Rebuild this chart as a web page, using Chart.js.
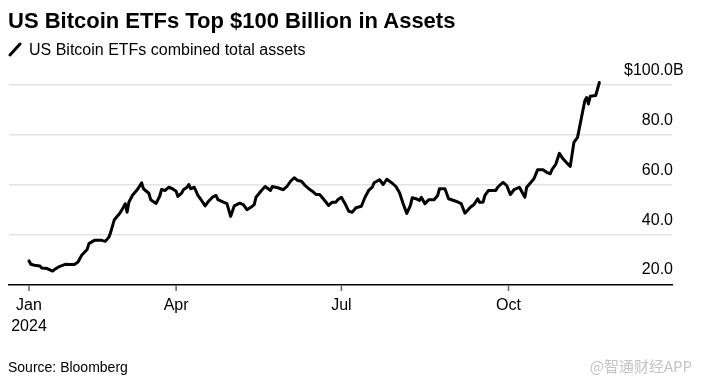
<!DOCTYPE html>
<html><head><meta charset="utf-8">
<script src="https://cdn.jsdelivr.net/npm/chart.js@4.4.1/dist/chart.umd.min.js"></script>
<style>
html,body{margin:0;padding:0;background:#fff;}
#wrap{position:relative;width:701px;height:383px;overflow:hidden;font-family:'Liberation Sans',Arial,sans-serif;color:#000;}
#c{position:absolute;left:0;top:0;}
.t{position:absolute;white-space:nowrap;}
#title{left:8px;top:9.5px;font-size:22px;font-weight:bold;line-height:22px;}
#sub{left:29px;top:41.5px;font-size:16px;line-height:16px;}
#icon{position:absolute;left:7px;top:41px;}
#src{left:8px;top:360px;font-size:14px;line-height:14px;}
#wm{right:9px;top:358px;font-size:15px;line-height:16px;color:#c4c4c4;font-family:'Noto Sans CJK SC',sans-serif;}
</style></head>
<body>
<div id="wrap">
<canvas id="c" width="701" height="383"></canvas>
<div class="t" id="title">US Bitcoin ETFs Top $100 Billion in Assets</div>
<svg id="icon" width="16" height="16"><line x1="3" y1="14" x2="13" y2="3" stroke="#000" stroke-width="3" stroke-linecap="round"/></svg>
<div class="t" id="sub">US Bitcoin ETFs combined total assets</div>
<div class="t" id="src">Source: Bloomberg</div>
<div class="t" id="wm">@智通财经APP</div>
</div>
<script>
const dates = ["2024-01-11","2024-01-12","2024-01-14","2024-01-17","2024-01-18","2024-01-21","2024-01-24","2024-01-25","2024-01-28","2024-01-31",
"2024-02-02","2024-02-05","2024-02-07","2024-02-09","2024-02-12","2024-02-13","2024-02-16","2024-02-20","2024-02-22","2024-02-24","2024-02-25","2024-02-27",
"2024-03-01","2024-03-03","2024-03-04","2024-03-05","2024-03-06","2024-03-08","2024-03-11","2024-03-13","2024-03-14","2024-03-17","2024-03-18","2024-03-21","2024-03-23","2024-03-24","2024-03-26","2024-03-28","2024-03-30",
"2024-04-01","2024-04-02","2024-04-04","2024-04-05","2024-04-07","2024-04-08","2024-04-09","2024-04-11","2024-04-13","2024-04-15","2024-04-17","2024-04-19","2024-04-21","2024-04-23","2024-04-24","2024-04-27","2024-04-29",
"2024-05-01","2024-05-03","2024-05-06","2024-05-08","2024-05-10","2024-05-13","2024-05-14","2024-05-15","2024-05-18","2024-05-20","2024-05-23","2024-05-24","2024-05-27","2024-05-30",
"2024-06-01","2024-06-03","2024-06-05","2024-06-07","2024-06-09","2024-06-11","2024-06-13","2024-06-15","2024-06-17","2024-06-19","2024-06-21","2024-06-24","2024-06-26","2024-06-28","2024-06-29",
"2024-07-01","2024-07-03","2024-07-05","2024-07-07","2024-07-09","2024-07-12","2024-07-14","2024-07-16","2024-07-18","2024-07-19","2024-07-22","2024-07-24","2024-07-26","2024-07-29","2024-07-31",
"2024-08-02","2024-08-04","2024-08-06","2024-08-08","2024-08-09","2024-08-11","2024-08-13","2024-08-14","2024-08-16","2024-08-18","2024-08-21","2024-08-23","2024-08-24","2024-08-27","2024-08-29",
"2024-09-02","2024-09-05","2024-09-07","2024-09-10","2024-09-12","2024-09-14","2024-09-15","2024-09-17","2024-09-18","2024-09-20","2024-09-24","2024-09-25","2024-09-28","2024-09-30",
"2024-10-02","2024-10-04","2024-10-07","2024-10-10","2024-10-11","2024-10-15","2024-10-17","2024-10-20","2024-10-22","2024-10-24","2024-10-25","2024-10-27","2024-10-29","2024-10-31",
"2024-11-02","2024-11-04","2024-11-06","2024-11-08","2024-11-10","2024-11-12","2024-11-13","2024-11-14","2024-11-15","2024-11-18","2024-11-19","2024-11-20"];
const assets = [29.5,28.1,27.7,27.4,26.6,26.4,25.4,26.0,27.3,28.1,
28.0,28.0,29.0,31.7,34.0,36.4,37.7,37.7,37.3,39.0,41.0,46.0,
48.6,51.0,52.4,49.0,53.0,55.8,58.4,60.8,58.4,56.6,54.0,52.5,55.5,58.1,57.7,59.0,58.4,
57.4,55.3,56.6,58.0,59.0,60.1,58.4,59.0,55.7,53.7,51.5,53.5,55.0,55.7,54.0,53.0,52.4,
47.3,51.5,52.6,52.0,50.0,51.4,52.0,55.0,57.7,59.3,57.7,59.3,58.8,58.0,
59.3,61.4,62.8,61.7,61.4,59.7,58.4,57.4,56.1,56.1,54.4,51.7,53.0,53.0,54.0,
55.0,52.4,49.4,49.0,50.8,51.4,55.0,57.7,59.0,60.8,62.0,60.1,62.2,60.6,59.3,
56.8,52.4,48.5,51.7,54.8,54.4,53.7,55.0,52.4,54.0,54.0,55.7,58.4,58.4,54.4,
53.4,52.4,48.6,51.0,52.1,54.4,53.0,53.0,55.7,57.7,57.7,59.0,61.0,59.7,
56.1,58.0,59.0,55.0,59.0,62.4,66.0,66.0,65.0,64.4,66.2,68.2,72.6,70.4,
68.8,67.4,77.0,79.0,86.4,93.7,95.0,92.4,95.5,95.8,98.4,101.0];
const tickDates = ["2024-01-11","2024-04-01","2024-07-01","2024-10-01"];
const tickLabels = [["Jan","2024"],["Apr"],["Jul"],["Oct"]];
const axisStart = "2023-12-31", axisEnd = "2024-12-30";
const yTicks = [20,40,60,80,100];
const yTickLabels = ["20.0","40.0","60.0","80.0","$100.0B"];

const base = Date.UTC(2024,0,11);
function dayOf(s){const p=s.split('-').map(Number);return (Date.UTC(p[0],p[1]-1,p[2])-base)/864e5;}
const points = dates.map((d,i)=>({x:dayOf(d), y:assets[i]}));

const labelsPlugin = {id:'labels', afterDraw(chart){
  const ctx = chart.ctx, x = chart.scales.x, y = chart.scales.y;
  ctx.save();
  ctx.fillStyle = '#000';
  ctx.font = "16px 'Liberation Sans', Arial, sans-serif";
  ctx.textBaseline = 'middle';
  ctx.textAlign = 'right';
  yTicks.forEach((v,i)=>{
    const lab = yTickLabels[i];
    const extra = lab.endsWith('B') ? ctx.measureText('B').width : 0;
    ctx.fillText(lab, 673 + extra, y.getPixelForValue(v) - 14.5);
  });
  const by = chart.chartArea.bottom;
  ctx.strokeStyle = '#666'; ctx.lineWidth = 1.5;
  ctx.textAlign = 'center';
  tickDates.forEach((d,i)=>{
    const px = x.getPixelForValue(dayOf(d));
    ctx.beginPath(); ctx.moveTo(px, by+0.75); ctx.lineTo(px, by+6.5); ctx.stroke();
    tickLabels[i].forEach((t,j)=>ctx.fillText(t, px, 306 + j*21));
  });
  ctx.restore();
}};

new Chart(document.getElementById('c'), {
  type:'line',
  data:{datasets:[{data:points, borderColor:'#000', borderWidth:3, pointRadius:0, tension:0,
    borderJoinStyle:'round', borderCapStyle:'round', clip:false}]},
  options:{
    responsive:false, animation:false,
    layout:{padding:{left:9,right:29,top:85,bottom:98.5}},
    plugins:{legend:{display:false}, tooltip:{enabled:false}},
    scales:{
      x:{type:'linear', min:dayOf(axisStart), max:dayOf(axisEnd),
         ticks:{display:false}, grid:{display:false, drawTicks:false},
         border:{display:true, color:'#000', width:1.5}},
      y:{type:'linear', position:'right', min:20, max:100,
         afterBuildTicks:(s)=>{s.ticks = yTicks.map(v=>({value:v}));},
         ticks:{display:false},
         grid:{drawTicks:false, lineWidth:1.5,
           color:(c)=> (c.tick && c.tick.value===20) ? 'rgba(0,0,0,0)' : '#e3e3e3'},
         border:{display:false}}
    }
  },
  plugins:[labelsPlugin]
});
</script>
</body></html>
